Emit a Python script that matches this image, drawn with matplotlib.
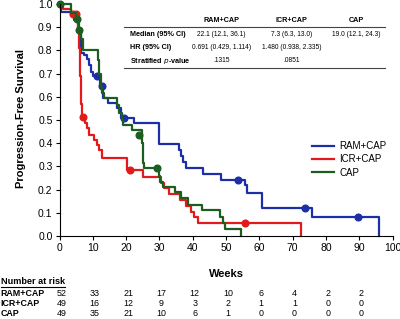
import matplotlib
matplotlib.use("Agg")
import matplotlib.pyplot as plt
from matplotlib import transforms
from matplotlib.lines import Line2D

plt.rcParams['font.family'] = ['Liberation Sans', 'DejaVu Sans']

# step curves (weeks, survival)
ram_t = [0, 0.5, 3.5, 4.5, 5.5, 6.5, 7.5, 8.4, 9.0, 9.6, 10.0, 12.3, 13.0, 14.5, 17.3, 18.5,
         22.4, 30.0, 36.0, 36.6, 37.2, 38.0, 43.0, 48.6, 55.7, 56.3, 60.7, 75.8, 95.8]
ram_s = [1.0, 0.967, 0.953, 0.93, 0.885, 0.79, 0.78, 0.765, 0.737, 0.708, 0.69, 0.647, 0.594, 0.575, 0.553, 0.51,
         0.487, 0.395, 0.37, 0.345, 0.318, 0.293, 0.267, 0.241, 0.22, 0.185, 0.12, 0.082, 0.0]
ram_cens_t = [11.4, 12.7, 19.4, 53.7, 73.8, 89.6]
ram_cens_s = [0.69, 0.647, 0.51, 0.241, 0.12, 0.082]

icr_t = [0, 1.2, 3.5, 5.5, 5.7, 5.9, 6.0, 6.1, 6.2, 6.3, 6.4, 6.5, 6.6, 6.8, 7.8, 8.3, 8.9, 10.3, 11.3,
         12.0, 12.8, 20.3, 25.0, 30.4, 31.5, 33.0, 36.3, 38.0, 39.5, 40.5, 41.5, 72.5]
icr_s = [1.0, 0.98, 0.957, 0.93, 0.89, 0.85, 0.81, 0.77, 0.73, 0.69, 0.65, 0.61, 0.57, 0.514, 0.487, 0.465, 0.435, 0.413, 0.392,
         0.37, 0.336, 0.284, 0.254, 0.228, 0.205, 0.18, 0.155, 0.13, 0.105, 0.08, 0.057, 0.0]
icr_cens_t = [4.2, 5.0, 7.0, 21.3, 55.8]
icr_cens_s = [0.957, 0.957, 0.514, 0.284, 0.057]

cap_t = [0, 3.6, 5.0, 5.8, 6.6, 7.0, 11.6, 12.0, 12.4, 12.9, 13.4, 17.4, 18.0, 18.8, 19.2, 21.8,
         24.9, 25.0, 25.2, 25.4, 30.0, 30.3, 31.0, 34.8, 36.5, 38.5, 42.8, 48.3, 49.0, 49.7, 54.5]
cap_s = [1.0, 0.96, 0.935, 0.89, 0.85, 0.80, 0.76, 0.70, 0.64, 0.616, 0.595, 0.565, 0.53, 0.50, 0.478, 0.457,
         0.40, 0.35, 0.313, 0.291, 0.26, 0.234, 0.213, 0.19, 0.165, 0.134, 0.112, 0.083, 0.057, 0.029, 0.0]
cap_cens_t = [0.3, 5.4, 6.0, 24.0, 29.4]
cap_cens_s = [1.0, 0.935, 0.89, 0.435, 0.291]

arms = ['RAM+CAP', 'ICR+CAP', 'CAP']
colors = ['#1c2fa6', '#e31a1c', '#1b5e20']

risk_weeks = [0, 10, 20, 30, 40, 50, 60, 70, 80, 90]
risk_ram = [52, 33, 21, 17, 12, 10, 6, 4, 2, 2]
risk_icr = [49, 16, 12, 9, 3, 2, 1, 1, 0, 0]
risk_cap = [49, 35, 21, 10, 6, 1, 0, 0, 0, 0]

tbl_rows = ['Median (95% CI)', 'HR (95% CI)', 'Stratified $\\mathbf{\\it{p}}$-value']
tbl_ram = ['22.1 (12.1, 36.1)', '0.691 (0.429, 1.114)', '.1315']
tbl_icr = ['7.3 (6.3, 13.0)', '1.480 (0.938, 2.335)', '.0851']
tbl_cap = ['19.0 (12.1, 24.3)', '', '']

W, H = 400, 319
fig = plt.figure(figsize=(W / 100, H / 100), dpi=100)
ax = fig.add_axes([59.5 / W, 1 - 236 / H, 333 / W, 232 / H])


def fx(x):
    return x / W


def fy(y):
    return 1 - y / H


curves = [(ram_t, ram_s, ram_cens_t, ram_cens_s),
          (icr_t, icr_s, icr_cens_t, icr_cens_s),
          (cap_t, cap_s, cap_cens_t, cap_cens_s)]
for (t, s, ct, cs), name, c in zip(curves, arms, colors):
    ax.step(t, s, where='post', color=c, lw=1.6, label=name, clip_on=False)
    ax.plot(ct, cs, 'o', color=c, ms=4.8, clip_on=False)

ax.set_xlim(0, 100)
ax.set_ylim(0, 1.0)
ax.set_xticks(range(0, 101, 10))
ax.set_yticks([i / 10 for i in range(11)])
ax.set_yticklabels(['%.1f' % (i / 10) for i in range(11)])
ax.tick_params(labelsize=7.5, length=3, width=0.8, pad=2)
for side in ['top', 'right']:
    ax.spines[side].set_visible(False)
for side in ['left', 'bottom']:
    ax.spines[side].set_linewidth(0.8)

ax.set_xlabel('Weeks', fontsize=8, fontweight='bold')
ax.xaxis.set_label_coords(0.5, -(269 - 236) / 232)
ax.set_ylabel('Progression-Free Survival', fontsize=8, fontweight='bold')
ax.yaxis.set_label_coords(-(59.5 - 26) / 333, (236 - 119) / 232)

ax.legend(loc='upper left', bbox_to_anchor=(fx(312), fy(141)), bbox_transform=fig.transFigure,
          frameon=False, fontsize=7, handlelength=2.3, handletextpad=0.5, labelspacing=0.35,
          borderaxespad=0, borderpad=0)

# summary table
fig.add_artist(Line2D([fx(124), fx(385)], [fy(26.7), fy(26.7)], color='#444444', lw=0.8))
fig.add_artist(Line2D([fx(124), fx(385)], [fy(67.5), fy(67.5)], color='#444444', lw=0.8))
col_x = [221.5, 291.5, 356.5]
for x, name in zip(col_x, arms):
    fig.text(fx(x), fy(20), name, ha='center', va='center', fontsize=5.2, fontweight='bold')
row_y = [34.3, 47.7, 61]
for y, lab in zip(row_y, tbl_rows):
    fig.text(fx(129.5), fy(y), lab, ha='left', va='center', fontsize=5.2, fontweight='bold')
for x, col in zip(col_x, [tbl_ram, tbl_icr, tbl_cap]):
    for y, val in zip(row_y, col):
        fig.text(fx(x), fy(y), val, ha='center', va='center', fontsize=4.8)

# number at risk
mix = transforms.blended_transform_factory(ax.transData, fig.transFigure)
fig.text(0.002, fy(282), 'Number at risk', ha='left', va='center', fontsize=6.6, fontweight='bold')
fig.add_artist(Line2D([0.002, fx(65)], [fy(287), fy(287)], color='black', lw=0.8))
for y, name, vals in zip([293.3, 303.3, 313.3], arms, [risk_ram, risk_icr, risk_cap]):
    fig.text(0.002, fy(y), name, ha='left', va='center', fontsize=6.4, fontweight='bold')
    for wk, v in zip(risk_weeks, vals):
        ax.text(wk + 0.6, fy(y), str(v), transform=mix, ha='center', va='center', fontsize=6.4)

fig.savefig('out.png', dpi=100)
